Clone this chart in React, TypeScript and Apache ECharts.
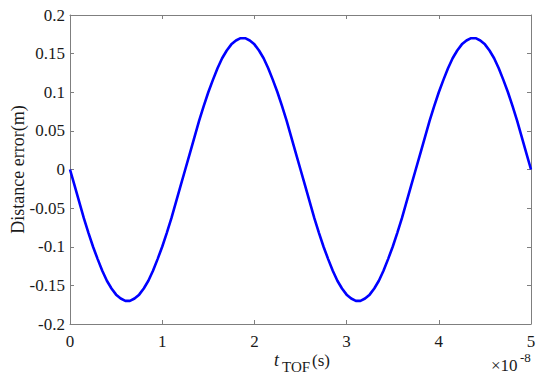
import React, { useEffect, useRef } from "react";
import * as echarts from "echarts";

const xValues = [
  0, 0.05, 0.1, 0.15, 0.2, 0.25, 0.3, 0.35, 0.4, 0.45,
  0.5, 0.55, 0.6, 0.65, 0.7, 0.75, 0.8, 0.85, 0.9, 0.95,
  1.0, 1.05, 1.1, 1.15, 1.2, 1.25, 1.3, 1.35, 1.4, 1.45,
  1.5, 1.55, 1.6, 1.65, 1.7, 1.75, 1.8, 1.85, 1.9, 1.95,
  2.0, 2.05, 2.1, 2.15, 2.2, 2.25, 2.3, 2.35, 2.4, 2.45,
  2.5, 2.55, 2.6, 2.65, 2.7, 2.75, 2.8, 2.85, 2.9, 2.95,
  3.0, 3.05, 3.1, 3.15, 3.2, 3.25, 3.3, 3.35, 3.4, 3.45,
  3.5, 3.55, 3.6, 3.65, 3.7, 3.75, 3.8, 3.85, 3.9, 3.95,
  4.0, 4.05, 4.1, 4.15, 4.2, 4.25, 4.3, 4.35, 4.4, 4.45,
  4.5, 4.55, 4.6, 4.65, 4.7, 4.75, 4.8, 4.85, 4.9, 4.95,
  5.0,
];
const errorValues = [
  0, -0.021, -0.042, -0.063, -0.082, -0.1, -0.116, -0.131, -0.144, -0.154,
  -0.162, -0.167, -0.17, -0.17, -0.167, -0.162, -0.154, -0.144, -0.131, -0.116,
  -0.1, -0.082, -0.063, -0.042, -0.021, 0, 0.021, 0.042, 0.063, 0.082,
  0.1, 0.116, 0.131, 0.144, 0.154, 0.162, 0.167, 0.17, 0.17, 0.167,
  0.162, 0.154, 0.144, 0.131, 0.116, 0.1, 0.082, 0.063, 0.042, 0.021,
  0, -0.021, -0.042, -0.063, -0.082, -0.1, -0.116, -0.131, -0.144, -0.154,
  -0.162, -0.167, -0.17, -0.17, -0.167, -0.162, -0.154, -0.144, -0.131, -0.116,
  -0.1, -0.082, -0.063, -0.042, -0.021, 0, 0.021, 0.042, 0.063, 0.082,
  0.1, 0.116, 0.131, 0.144, 0.154, 0.162, 0.167, 0.17, 0.17, 0.167,
  0.162, 0.154, 0.144, 0.131, 0.116, 0.1, 0.082, 0.063, 0.042, 0.021,
  0,
];
const yLabel = "Distance error(m)";
const xLabelVar = "t";
const xLabelSub = "TOF";
const xLabelUnit = "(s)";
const xScaleBase = "×10";
const xExponent = "-8";

const FONT = "'Liberation Serif', 'Times New Roman', serif";
const AXIS_COLOR = "#7f7f7f";
const TEXT_COLOR = "#1a1a1a";

export default function App() {
  const ref = useRef<HTMLDivElement>(null);
  useEffect(() => {
    if (!ref.current) return;
    const chart = echarts.init(ref.current, undefined, { renderer: "svg" });
    const axisCommon = {
      axisLine: { show: true, onZero: false, lineStyle: { color: AXIS_COLOR, width: 1 } },
      axisTick: { show: true, inside: true, length: 4, lineStyle: { color: AXIS_COLOR } },
      splitLine: { show: false },
    };
    const fmt = (v: number) => String(+v.toFixed(2));
    const txt = (text: string, x: number, y: number, size: number, italic = false) => ({
      type: "text",
      x,
      y,
      style: {
        text,
        fontFamily: FONT,
        fontSize: size,
        fontStyle: italic ? "italic" : "normal",
        fill: TEXT_COLOR,
        align: "left",
        verticalAlign: "middle",
      },
    });
    chart.setOption({
      animation: false,
      backgroundColor: "#ffffff",
      grid: { left: 70, right: 19, top: 15, bottom: 63, containLabel: false, outerBoundsMode: "none" },
      xAxis: [
        {
          type: "value", min: 0, max: 5, interval: 1, position: "bottom",
          ...axisCommon,
          axisLabel: { show: true, margin: 9, color: TEXT_COLOR, fontFamily: FONT, fontSize: 17, formatter: fmt },
        },
        {
          type: "value", min: 0, max: 5, interval: 1, position: "top",
          ...axisCommon,
          axisLabel: { show: false },
        },
      ],
      yAxis: [
        {
          type: "value", min: -0.2, max: 0.2, interval: 0.05, position: "left",
          ...axisCommon,
          axisLabel: { show: true, margin: 5, color: TEXT_COLOR, fontFamily: FONT, fontSize: 17, formatter: fmt },
          name: yLabel,
          nameLocation: "middle",
          nameGap: 43,
          nameMoveOverlap: false,
          nameRotate: 90,
          nameTextStyle: { color: TEXT_COLOR, fontFamily: FONT, fontSize: 18 },
        },
        {
          type: "value", min: -0.2, max: 0.2, interval: 0.05, position: "right",
          ...axisCommon,
          axisLabel: { show: false },
        },
      ],
      graphic: [
        txt(xLabelVar, 274, 360, 18, true),
        txt(xLabelSub, 282, 367, 15),
        txt(xLabelUnit, 312, 360, 17),
        txt(xScaleBase, 491, 365, 17),
        txt(xExponent, 520, 357, 13),
      ],
      series: [
        {
          type: "line",
          xAxisIndex: 0,
          yAxisIndex: 0,
          data: xValues.map((x, i) => [x, errorValues[i]]),
          smooth: false,
          showSymbol: false,
          lineStyle: { color: "#0000ff", width: 2.6 },
        },
      ],
    });
    return () => chart.dispose();
  }, []);
  return (
    <div
      ref={ref}
      style={{ position: "absolute", left: 0, top: 0, width: 550, height: 387, background: "#fff" }}
    />
  );
}
